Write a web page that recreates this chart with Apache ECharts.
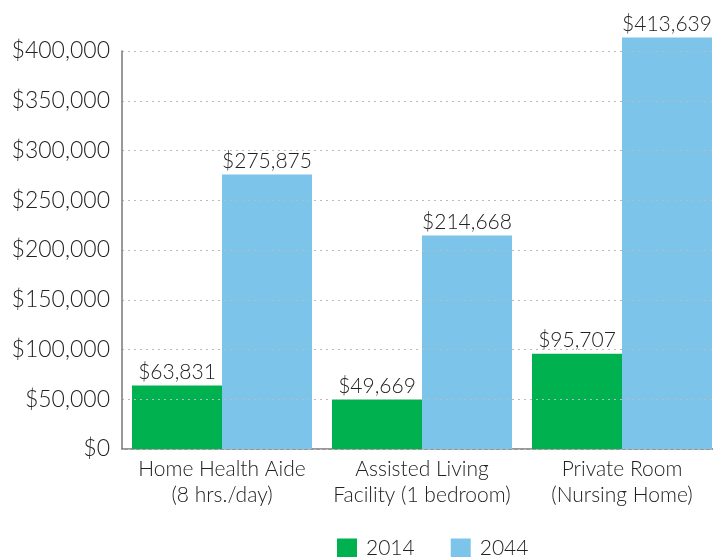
<!DOCTYPE html>
<html>
<head>
<meta charset="utf-8">
<script src="https://cdn.jsdelivr.net/npm/echarts@6/dist/echarts.min.js"></script>
<style>
  html, body { margin: 0; padding: 0; background: #fff; }
  #chart { width: 713px; height: 557px; }
</style>
</head>
<body>
<div id="chart"></div>
<script>
const categories = ['Home Health Aide\n(8 hrs./day)', 'Assisted Living\nFacility (1 bedroom)', 'Private Room\n(Nursing Home)']
const cost2014 = [63831, 49669, 95707]
const cost2044 = [275875, 214668, 413639]
const yTicks = [0, 50000, 100000, 150000, 200000, 250000, 300000, 350000, 400000]

const fontFamily = 'Lato, "Open Sans", sans-serif'
const money = v => '$' + v.toLocaleString('en-US')

const chart = echarts.init(document.getElementById('chart'))

const option = {
  backgroundColor: '#fff',
  animation: false,
  textStyle: { fontFamily: fontFamily },
  grid: {
    left: 122,
    width: 600,
    top: 51,
    bottom: 108,
    containLabel: false,
    outerBoundsMode: 'none'
  },
  legend: {
    left: 337,
    top: 538,
    padding: 0,
    itemWidth: 20,
    itemHeight: 20,
    itemGap: 36,
    icon: 'rect',
    textStyle: { color: '#222', fontSize: 21, fontWeight: 300, fontFamily: fontFamily, padding: [0, 0, 0, 4] },
    data: ['2014', '2044']
  },
  xAxis: {
    type: 'category',
    data: categories,
    axisTick: { show: false },
    axisLine: { lineStyle: { color: '#777', width: 1.5 } },
    axisLabel: {
      color: '#222',
      fontSize: 21,
      fontWeight: 300,
      lineHeight: 26,
      margin: 7,
      fontFamily: fontFamily,
      interval: 0
    }
  },
  yAxis: {
    type: 'value',
    min: yTicks[0],
    max: yTicks[yTicks.length - 1],
    interval: 50000,
    z: 10,
    axisLine: { show: true, lineStyle: { color: '#777', width: 1.5 } },
    axisTick: { show: false },
    splitLine: {
      lineStyle: { color: '#bbb', type: [2, 4], width: 1.2 }
    },
    axisLabel: {
      color: '#222',
      fontSize: 23,
      fontWeight: 300,
      margin: 12,
      fontFamily: fontFamily,
      formatter: money
    }
  },
  series: [
    {
      name: '2014',
      type: 'bar',
      data: cost2014,
      barWidth: 90,
      barGap: '0%',
      clip: false,
      itemStyle: { color: '#00b24f' },
      label: {
        show: true,
        position: 'top',
        distance: 3,
        color: '#222',
        fontSize: 21,
        fontWeight: 300,
        fontFamily: fontFamily,
        formatter: p => money(p.value)
      }
    },
    {
      name: '2044',
      type: 'bar',
      data: cost2044,
      barWidth: 90,
      barGap: '0%',
      clip: false,
      itemStyle: { color: '#7cc4ea' },
      label: {
        show: true,
        position: 'top',
        distance: 3,
        color: '#222',
        fontSize: 21,
        fontWeight: 300,
        fontFamily: fontFamily,
        formatter: p => money(p.value)
      }
    }
  ]
}

chart.setOption(option)
window.addEventListener('resize', () => chart.resize())
</script>
</body>
</html>
